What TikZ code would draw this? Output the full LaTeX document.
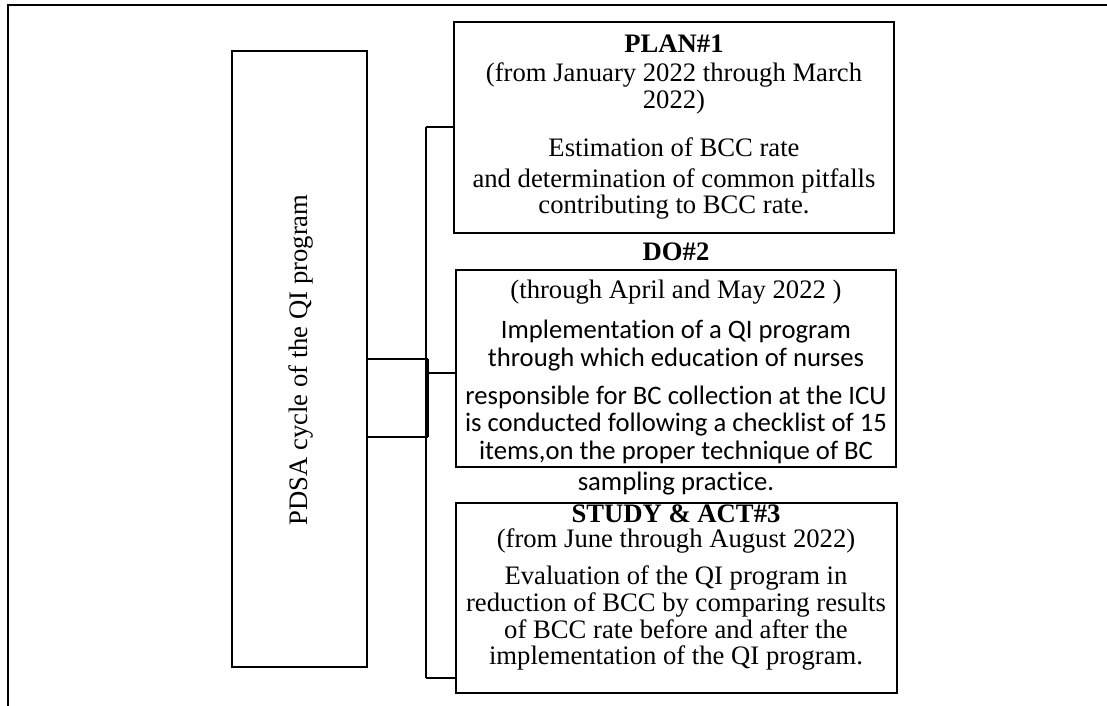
\documentclass[tikz,border=0pt]{standalone}
\usepackage{fontspec}
\setmainfont{Liberation Serif}
\newfontfamily\calibri[Ligatures=NoCommon]{Carlito}
\begin{document}
\begin{tikzpicture}[x=0.75pt,y=-0.75pt,
  boxst/.style={draw,line width=1.5pt,inner sep=0pt},
  conn/.style={line width=1.5pt},
  frame/.style={line width=1.5pt},
  tx/.style={anchor=base,inner sep=0pt,font=\fontsize{20}{24}\selectfont},
  txb/.style={tx,font=\fontsize{20}{24}\selectfont\bfseries},
  cal/.style={tx,font=\fontsize{20}{24}\selectfont\calibri}]
\useasboundingbox (0,0) rectangle (1107,706);
% outer frame (open at right and bottom)
\coordinate (fbl) at (8,706);
\coordinate (ftl) at (8,5.5);
\coordinate (ftr) at (1107,5.5);
\draw[frame] (fbl) -- (ftl) -- (ftr);

% boxes
\node[boxst,minimum width={135*0.75pt},minimum height={616*0.75pt}] (pdsa) at (299.5,359) {};
\node[tx,anchor=center,rotate=90] (pdsatext) at (301,360) {PDSA cycle of the QI program};

\node[boxst,minimum width={440*0.75pt},minimum height={211*0.75pt}] (plan) at (674,127.5) {};
\node[boxst,minimum width={440*0.75pt},minimum height={197*0.75pt}] (do) at (676,368.5) {};
\node[boxst,minimum width={441*0.75pt},minimum height={190*0.75pt}] (study) at (676.5,598) {};

% PLAN texts
\node[txb] (p1) at (674,53) {PLAN\#1};
\node[tx] (p2) at (674,82) {(from January 2022 through March};
\node[tx] (p3) at (674,109) {2022)};
\node[tx] (p4) at (674,157) {Estimation of BCC rate};
\node[tx] (p5) at (674,188) {and determination of common pitfalls};
\node[tx] (p6) at (674,214) {contributing to BCC rate.};

% DO texts
\node[txb] (d1) at (676,261) {DO\#2};
\node[tx] (d2) at (676,298) {(through April and May 2022 )};
\node[cal] (d3) at (676,338) {Implementation of a QI program};
\node[cal] (d4) at (676,366) {through which education of nurses};
\node[cal] (d5) at (676,404) {responsible for BC collection at the ICU};
\node[cal] (d6) at (676,431) {is conducted following a checklist of 15};
\node[cal] (d7) at (676,459) {items,on the proper technique of BC};
\node[cal] (d8) at (676,490) {sampling practice.};

% STUDY texts
\node[txb] (s1) at (676,522) {STUDY \& ACT\#3};
\node[tx] (s2) at (676,547) {(from June through August 2022)};
\node[tx] (s3) at (676,584) {Evaluation of the QI program in};
\node[tx] (s4) at (676,611) {reduction of BCC by comparing results};
\node[tx] (s5) at (676,638) {of BCC rate before and after the};
\node[tx] (s6) at (676,664) {implementation of the QI program.};

% connectors
\coordinate (j1) at (426,359);
\coordinate (j2) at (426,437);
\coordinate (j1b) at (428,359);
\coordinate (j2b) at (428,437);
\coordinate (bt) at (426,127);
\coordinate (bm) at (426,373);
\coordinate (bb) at (426,678);
\draw[conn] (pdsa.east |- j1) -- (j1b);
\draw[conn] (pdsa.east |- j2) -- (j2b);
\draw[conn] (j1b) -- (j2b);
\draw[conn] (bt) -- (bb);
\draw[conn] (bt) -- (plan.west |- bt);
\draw[conn] (bm) -- (do.west |- bm);
\draw[conn] (bb) -- (study.west |- bb);
\end{tikzpicture}
\end{document}
